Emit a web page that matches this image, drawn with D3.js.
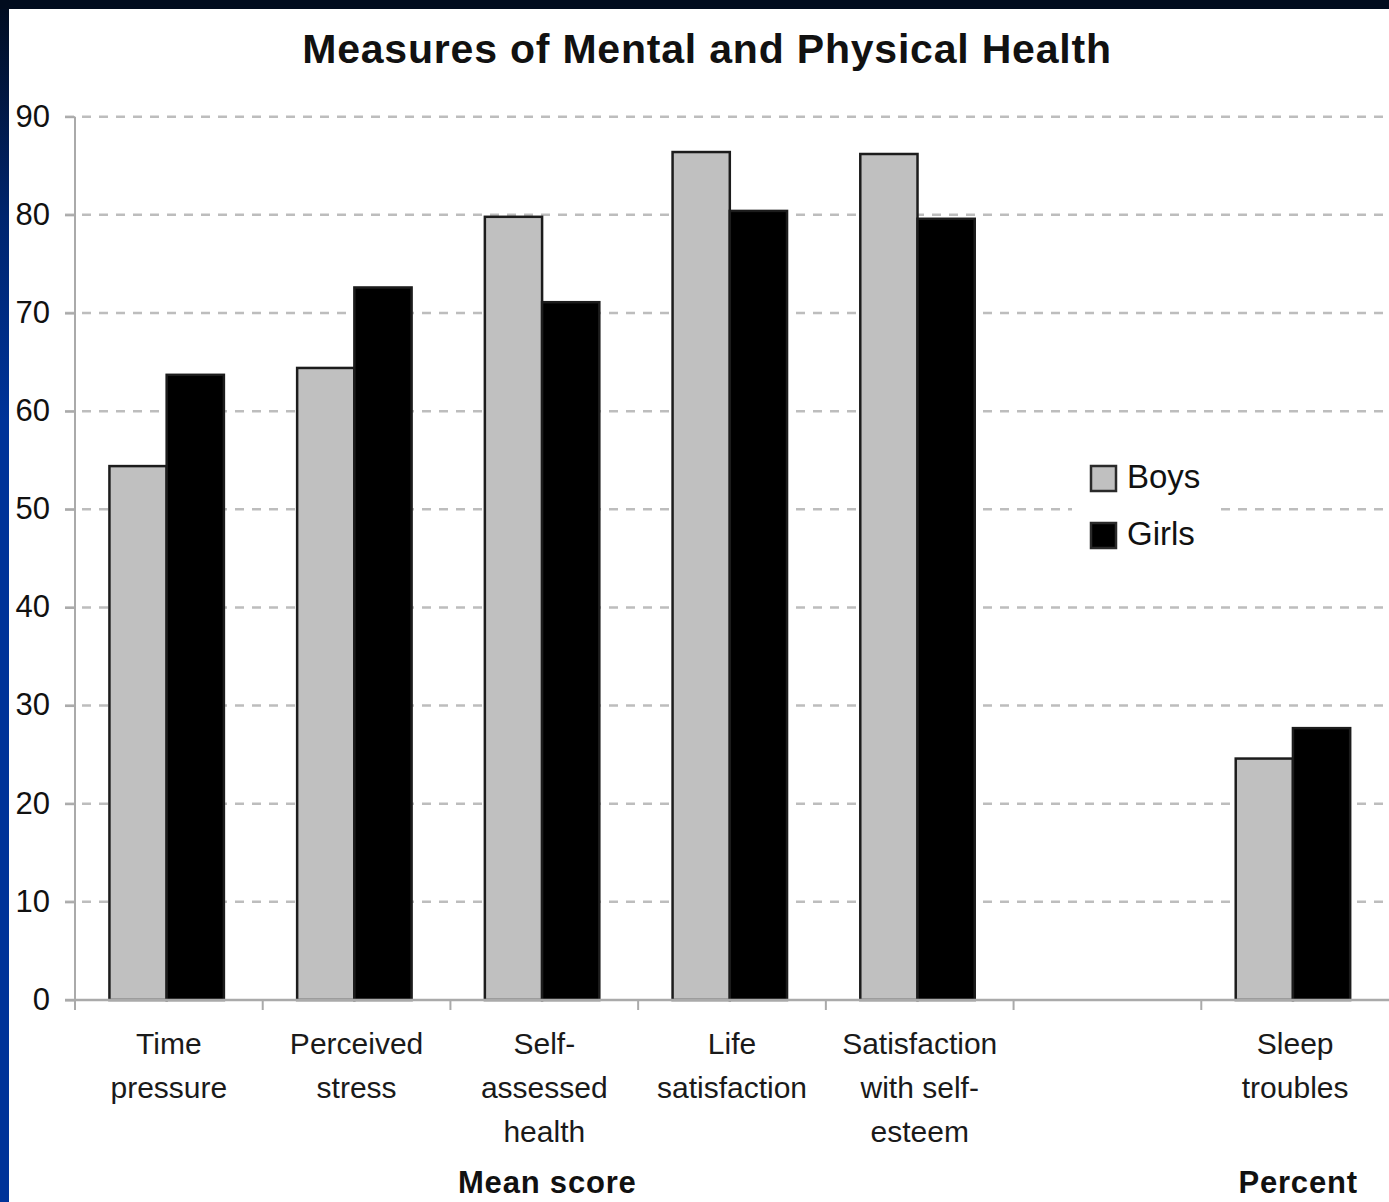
<!DOCTYPE html>
<html>
<head>
<meta charset="utf-8">
<script src="https://cdn.jsdelivr.net/npm/d3@7/dist/d3.min.js"></script>
<style>
  html, body { margin: 0; padding: 0; background: #fff; }
  svg { display: block; }
  text { font-family: "Liberation Sans", Arial, sans-serif; }
</style>
</head>
<body>
<script>
// Chart data
const categories = ["Time pressure", "Perceived stress", "Self-assessed health",
  "Life satisfaction", "Satisfaction with self-esteem", "", "Sleep troubles"];
const categoryLines = [["Time", "pressure"], ["Perceived", "stress"], ["Self-", "assessed", "health"],
  ["Life", "satisfaction"], ["Satisfaction", "with self-", "esteem"], [], ["Sleep", "troubles"]];
const seriesNames = ["Boys", "Girls"];
const boys  = [54.4, 64.4, 79.8, 86.4, 86.2, null, 24.6];
const girls = [63.7, 72.6, 71.1, 80.4, 79.6, null, 27.7];
const yTicks = [0, 10, 20, 30, 40, 50, 60, 70, 80, 90];
const groupLabels = [
  { text: "Mean score", from: 0, to: 4 },
  { text: "Percent", from: 6, to: 6 }
];
const seriesColors = { Boys: "#c0c0c0", Girls: "#000000" };

const W = 1389, H = 1202;
const svg = d3.select("body").append("svg").attr("width", W).attr("height", H);

// Slide-style frame: dark navy fading to blue
const defs = svg.append("defs");
const grad = defs.append("linearGradient").attr("id", "frameGrad")
  .attr("x1", 0).attr("y1", 0).attr("x2", 0).attr("y2", 1);
grad.append("stop").attr("offset", "0%").attr("stop-color", "#010c1e");
grad.append("stop").attr("offset", "18%").attr("stop-color", "#00256e");
grad.append("stop").attr("offset", "35%").attr("stop-color", "#003399");
grad.append("stop").attr("offset", "100%").attr("stop-color", "#003399");
svg.append("rect").attr("width", W).attr("height", H).attr("fill", "url(#frameGrad)");
svg.append("rect").attr("x", 0).attr("y", 0).attr("width", W).attr("height", 9).attr("fill", "#010c1e");
svg.append("rect").attr("x", 9).attr("y", 9).attr("width", W - 9).attr("height", H - 9).attr("fill", "#ffffff");

// Scales
const x0 = d3.scaleBand().domain(d3.range(categories.length)).range([75, 1389]).padding(0);
const x1 = d3.scaleBand().domain(seriesNames).range([0, x0.bandwidth()])
  .paddingInner(0).paddingOuter(0.64).align(0.47);
const y = d3.scaleLinear().domain([0, 90]).range([1000, 116.7]);

// Title
svg.append("text")
  .attr("x", 707).attr("y", 63)
  .attr("text-anchor", "middle")
  .attr("font-size", 41).attr("font-weight", "bold")
  .attr("letter-spacing", 0.8)
  .attr("fill", "#111")
  .text("Measures of Mental and Physical Health");

// Dashed gridlines
svg.append("g")
  .selectAll("line").data(yTicks.filter(d => d > 0)).join("line")
  .attr("x1", 65).attr("x2", W)
  .attr("y1", d => y(d)).attr("y2", d => y(d))
  .attr("stroke", "#bdbdbd").attr("stroke-width", 2.5)
  .attr("stroke-dasharray", "9,8");

// Y axis
const yAxis = svg.append("g").attr("transform", "translate(75,0)")
  .call(d3.axisLeft(y).tickValues(yTicks).tickSize(10).tickPadding(15).tickFormat(d3.format("d")));
yAxis.select(".domain").attr("stroke", "#aaaaaa").attr("stroke-width", 2).attr("d", `M0,${y(0)}V${y(90)}`);
yAxis.selectAll(".tick line").attr("stroke", "#aaaaaa").attr("stroke-width", 2);
yAxis.selectAll(".tick text")
  .attr("font-size", 31).attr("fill", "#111")
  .attr("font-family", "Liberation Sans, Arial, sans-serif")
  .attr("dy", "0.3em");

// Bars
const rows = categories.map((c, i) => ({ i, Boys: boys[i], Girls: girls[i] }));
const groups = svg.append("g").selectAll("g").data(rows).join("g")
  .attr("transform", d => `translate(${x0(d.i)},0)`);
groups.selectAll("rect")
  .data(d => seriesNames.map(k => ({ k, v: d[k] })).filter(e => e.v != null))
  .join("rect")
  .attr("x", e => x1(e.k))
  .attr("y", e => y(e.v))
  .attr("width", x1.bandwidth())
  .attr("height", e => y(0) - y(e.v))
  .attr("fill", e => seriesColors[e.k])
  .attr("stroke", "#1c1c1c")
  .attr("stroke-width", 2.5);

// X axis with ticks between categories
const xAxisG = svg.append("g");
xAxisG.append("line")
  .attr("x1", 65).attr("x2", W).attr("y1", y(0)).attr("y2", y(0))
  .attr("stroke", "#aaaaaa").attr("stroke-width", 2.5);
xAxisG.selectAll("line.tk").data(d3.range(categories.length)).join("line")
  .attr("class", "tk")
  .attr("x1", d => x0(d)).attr("x2", d => x0(d))
  .attr("y1", y(0)).attr("y2", y(0) + 10)
  .attr("stroke", "#aaaaaa").attr("stroke-width", 2);

// Category labels
const catLabels = svg.append("g").selectAll("text").data(categoryLines.map((lines, i) => ({ lines, i })))
  .join("text")
  .attr("text-anchor", "middle")
  .attr("font-size", 30)
  .attr("fill", "#1a1a1a")
  .attr("transform", d => `translate(${x0(d.i) + x0.bandwidth() / 2},1054)`);
catLabels.selectAll("tspan").data(d => d.lines).join("tspan")
  .attr("x", 0).attr("y", (d, j) => j * 44)
  .text(d => d);

// Group labels below the categories
svg.append("g").selectAll("text").data(groupLabels).join("text")
  .attr("x", d => (x0(d.from) + x0(d.to) + x0.bandwidth()) / 2 + 3)
  .attr("y", 1193)
  .attr("text-anchor", "middle")
  .attr("font-size", 31).attr("font-weight", "bold")
  .attr("letter-spacing", 0.8)
  .attr("fill", "#111")
  .text(d => d.text);

// Legend
const legend = svg.append("g").attr("transform", "translate(1072,452)");
legend.append("rect").attr("x", 0).attr("y", 0).attr("width", 142).attr("height", 110).attr("fill", "#fff");
const li = legend.selectAll("g").data(seriesNames).join("g")
  .attr("transform", (d, i) => `translate(19,${14 + i * 57})`);
li.append("rect").attr("width", 25).attr("height", 25)
  .attr("fill", d => seriesColors[d]).attr("stroke", "#2a2a2a").attr("stroke-width", 2.5);
li.append("text").attr("x", 36).attr("y", 22)
  .attr("font-size", 33).attr("fill", "#111")
  .text(d => d);
</script>
</body>
</html>
